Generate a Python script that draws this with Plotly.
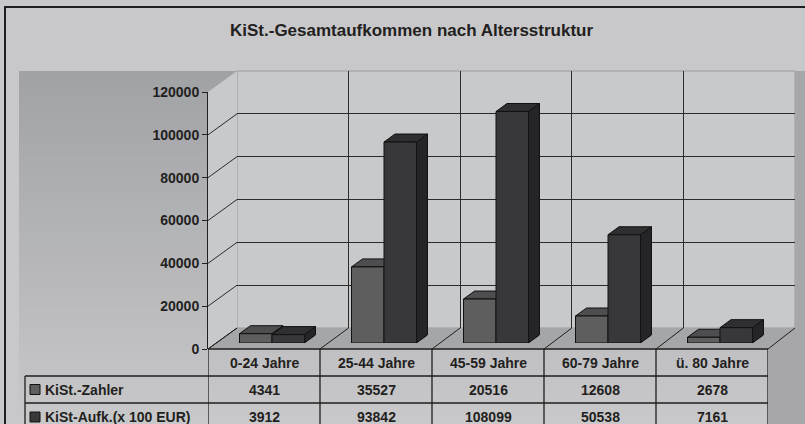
import plotly.graph_objects as go

# ---------------- data ----------------
categories = ["0-24 Jahre", "25-44 Jahre", "45-59 Jahre", "60-79 Jahre", "ü. 80 Jahre"]
series_names = ["KiSt.-Zahler", "KiSt-Aufk.(x 100 EUR)"]
kist_zahler = [4341, 35527, 20516, 12608, 2678]
kist_aufkommen = [3912, 93842, 108099, 50538, 7161]
y_ticks = [0, 20000, 40000, 60000, 80000, 100000, 120000]
chart_title = "KiSt.-Gesamtaufkommen nach Altersstruktur"

# ---------------- layout constants ----------------
W, H = 805, 424
Y_MAX = 120000
V_PX = 257            # pixel height of the 0..Y_MAX span on every plane
FRONT = (208, 768, 349)   # x-left, x-right, y of value 0 (front plane)
BACK = (237, 795, 328)    # back wall plane
BARP = (216, 776, 343)    # plane of the bar front faces
BARGAP = 0.42
FONT = "Liberation Sans, Arial, sans-serif"
TXT = "#231f20"
BG = "#c8c8ca"
WALL = "#c8c9cb"
FLOOR = "#a5a6a8"
GRID = "#2b2b2b"
FRONT_COL = ["#5e5e5f", "#38383a"]
TOP_COL = ["#4e4e50", "#2f2f31"]
SIDE_COL = ["#414143", "#252527"]


def px(x):
    return x / W


def py(y):
    return 1 - y / H


def xdom(p):
    return [px(p[0]), px(p[1])]


def ydom(p):
    return [py(p[2]), py(p[2] - V_PX)]


def yplane(p, v):
    return p[2] - v / Y_MAX * V_PX


def xplane(p, b):
    # b: category boundary position in axis units (range -0.5..4.5)
    return p[0] + (b + 0.5) / len(categories) * (p[1] - p[0])


series = [kist_zahler, kist_aufkommen]
fig = go.Figure()

# dummy traces so the back-wall and front-axis subplots exist
fig.add_trace(go.Scatter(x=[None], y=[None], xaxis="x", yaxis="y", showlegend=False, hoverinfo="skip"))
for s, vals in enumerate(series):
    fig.add_trace(go.Bar(
        x=list(range(len(categories))), y=vals, name=series_names[s],
        xaxis="x2", yaxis="y2",
        marker=dict(color=FRONT_COL[s], line=dict(color="#111111", width=1)),
        showlegend=False,
    ))
fig.add_trace(go.Scatter(x=[None], y=[None], xaxis="x3", yaxis="y3", showlegend=False, hoverinfo="skip"))

shapes = []

# outer background gradient panel
N = 40
top, bot = 71, H
c0, c1 = (161, 162, 166), (200, 200, 202)
for k in range(N):
    t = k / (N - 1)
    col = "rgb(%d,%d,%d)" % tuple(round(a + (b - a) * t) for a, b in zip(c0, c1))
    shapes.append(dict(type="rect", xref="paper", yref="paper", layer="below",
                       x0=px(19), x1=1.0, y0=py(top + (bot - top) * (k + 1) / N + 0.5),
                       y1=py(top + (bot - top) * k / N), fillcolor=col, line=dict(width=0)))
# right strip (darker)
shapes.append(dict(type="path", xref="paper", yref="paper", layer="below",
                   path="M %f,%f L %f,%f L %f,%f L %f,%f L %f,%f L %f,%f Z" % (
                       px(FRONT[1]), py(FRONT[2]), px(BACK[1]), py(BACK[2]), px(BACK[1]), py(71),
                       1.0, py(71), 1.0, 0, px(FRONT[1]), 0),
                   fillcolor="#a7a7a9", line=dict(width=0)))

# back wall
shapes.append(dict(type="rect", xref="paper", yref="paper", layer="below",
                   x0=px(BACK[0]), x1=px(BACK[1]), y0=py(BACK[2]), y1=py(yplane(BACK, Y_MAX)),
                   fillcolor=WALL, line=dict(color="#a9a9ab", width=1.5)))
# side wall
shapes.append(dict(type="path", xref="paper", yref="paper", layer="below",
                   path="M %f,%f L %f,%f L %f,%f L %f,%f Z" % (
                       px(FRONT[0]), py(FRONT[2]), px(FRONT[0]), py(yplane(FRONT, Y_MAX)),
                       px(BACK[0]), py(yplane(BACK, Y_MAX)), px(BACK[0]), py(BACK[2])),
                   fillcolor=WALL, line=dict(width=0)))
# floor
shapes.append(dict(type="path", xref="paper", yref="paper", layer="below",
                   path="M %f,%f L %f,%f L %f,%f L %f,%f Z" % (
                       px(FRONT[0]), py(FRONT[2]), px(FRONT[1]), py(FRONT[2]),
                       px(BACK[1]), py(BACK[2]), px(BACK[0]), py(BACK[2])),
                   fillcolor=FLOOR, line=dict(width=0)))
# side wall diagonals at each tick
for v in y_ticks[:-1]:
    shapes.append(dict(type="line", xref="paper", yref="paper", layer="below",
                       x0=px(FRONT[0]), y0=py(yplane(FRONT, v)),
                       x1=px(BACK[0]), y1=py(yplane(BACK, v)),
                       line=dict(color=GRID, width=1)))
# floor diagonals at category boundaries
for i in range(len(categories) + 1):
    b = i - 0.5
    shapes.append(dict(type="line", xref="paper", yref="paper", layer="below",
                       x0=px(xplane(FRONT, b)), y0=py(FRONT[2]),
                       x1=px(xplane(BACK, b)), y1=py(BACK[2]),
                       line=dict(color="#1e1e1e", width=1)))

# 3D faces of bars (drawn below the bar traces = front faces)
bar_w = (1 - BARGAP) / len(series)
DX = 11 / ((BARP[1] - BARP[0]) / len(categories))   # depth in category units
DY = 8 / V_PX * Y_MAX                                 # depth in value units
for s, vals in enumerate(series):
    for i, v in enumerate(vals):
        xl = i - bar_w + s * bar_w
        xr = xl + bar_w
        shapes.append(dict(type="path", xref="x2", yref="y2", layer="below",
                           path="M %f,%f L %f,%f L %f,%f L %f,%f Z" % (xr, 0, xr, v, xr + DX, v + DY, xr + DX, DY),
                           fillcolor=SIDE_COL[s], line=dict(color="#111111", width=1)))
        shapes.append(dict(type="path", xref="x2", yref="y2", layer="below",
                           path="M %f,%f L %f,%f L %f,%f L %f,%f Z" % (xl, v, xr, v, xr + DX, v + DY, xl + DX, v + DY),
                           fillcolor=TOP_COL[s], line=dict(color="#111111", width=1)))

# ---------------- data table ----------------
ROW_Y = [349, 376, 403, 431]
TBL_LEFT = 25
LINE = dict(color="#1e1e1e", width=1.3)
shapes.append(dict(type="line", xref="x3", yref="paper", layer="above",
                   x0=-0.5, x1=len(categories) - 0.5, y0=py(ROW_Y[0]), y1=py(ROW_Y[0]), line=LINE))
for ry in ROW_Y[1:]:
    shapes.append(dict(type="line", xref="paper", yref="paper", layer="above",
                       x0=px(TBL_LEFT), x1=px(FRONT[1]), y0=py(ry), y1=py(ry), line=LINE))
for i in range(len(categories) + 1):
    shapes.append(dict(type="line", xref="x3", yref="paper", layer="above",
                       x0=i - 0.5, x1=i - 0.5, y0=py(ROW_Y[0]), y1=py(ROW_Y[-1]), line=LINE))
shapes.append(dict(type="line", xref="paper", yref="paper", layer="above",
                   x0=px(TBL_LEFT), x1=px(TBL_LEFT), y0=py(ROW_Y[1]), y1=py(ROW_Y[-1]), line=LINE))

# outer border
shapes.append(dict(type="rect", xref="paper", yref="paper", layer="above",
                   x0=px(5), y0=-0.05, x1=1.05, y1=py(7),
                   fillcolor="rgba(0,0,0,0)", line=dict(color="#1e1e1e", width=2)))

annotations = []
annotations.append(dict(text="<b>%s</b>" % chart_title, xref="paper", yref="paper",
                        x=px(411), y=py(31), xanchor="center", yanchor="middle", showarrow=False,
                        font=dict(family=FONT, size=17, color=TXT)))
for i, c in enumerate(categories):
    annotations.append(dict(text="<b>%s</b>" % c, xref="x3", yref="paper", x=i,
                            y=py((ROW_Y[0] + ROW_Y[1]) / 2), xanchor="center", yanchor="middle",
                            showarrow=False, font=dict(family=FONT, size=14, color=TXT)))
for s, vals in enumerate(series):
    yc = (ROW_Y[s + 1] + ROW_Y[s + 2]) / 2
    shapes.append(dict(type="rect", xref="paper", yref="paper", layer="above",
                       x0=px(30), x1=px(40), y0=py(yc + 5), y1=py(yc - 5),
                       fillcolor=FRONT_COL[s], line=dict(color="#111111", width=1)))
    annotations.append(dict(text="<b>%s</b>" % series_names[s], xref="paper", yref="paper",
                            x=px(43), y=py(yc), xanchor="left", yanchor="middle", showarrow=False,
                            font=dict(family=FONT, size=14, color=TXT)))
    for i, v in enumerate(vals):
        annotations.append(dict(text="<b>%d</b>" % v, xref="x3", yref="paper", x=i, y=py(yc),
                                xanchor="center", yanchor="middle",
                                showarrow=False, font=dict(family=FONT, size=14, color=TXT)))

fig.update_layout(
    width=W, height=H, autosize=False,
    margin=dict(l=0, r=0, t=0, b=0, pad=0, autoexpand=False),
    paper_bgcolor=BG, plot_bgcolor="rgba(0,0,0,0)",
    showlegend=False,
    barmode="group", bargap=BARGAP, bargroupgap=0,
    # back wall (gridlines)
    xaxis=dict(domain=xdom(BACK), range=[-0.5, len(categories) - 0.5], anchor="y",
               tickvals=[i + 0.5 for i in range(len(categories) - 1)], showgrid=True,
               gridcolor=GRID, gridwidth=1.2, showticklabels=False, ticks="",
               zeroline=False, showline=False, automargin=False),
    yaxis=dict(domain=ydom(BACK), range=[0, Y_MAX], anchor="x",
               tickvals=y_ticks[:-1], showgrid=True, gridcolor=GRID, gridwidth=1.2,
               showticklabels=False, ticks="", zeroline=False, showline=False, automargin=False),
    # bars plane
    xaxis2=dict(domain=xdom(BARP), range=[-0.5, len(categories) - 0.5], anchor="y2",
                visible=False, automargin=False),
    yaxis2=dict(domain=ydom(BARP), range=[0, Y_MAX], anchor="x2", visible=False, automargin=False),
    # front axis
    xaxis3=dict(domain=xdom(FRONT), range=[-0.5, len(categories) - 0.5], anchor="y3",
                visible=False, automargin=False),
    yaxis3=dict(domain=ydom(FRONT), range=[0, Y_MAX], anchor="x3", automargin=False,
                tickvals=y_ticks, ticktext=[str(t) for t in y_ticks],
                showline=True, linecolor=TXT, linewidth=1, ticks="outside", ticklen=5,
                tickcolor=TXT, showgrid=False, zeroline=False,
                tickfont=dict(family=FONT, size=14, color=TXT, weight="bold")),
    shapes=shapes, annotations=annotations,
)

fig.write_html("out.html", config={"displayModeBar": False},
               post_script="document.body.style.margin='0';")
